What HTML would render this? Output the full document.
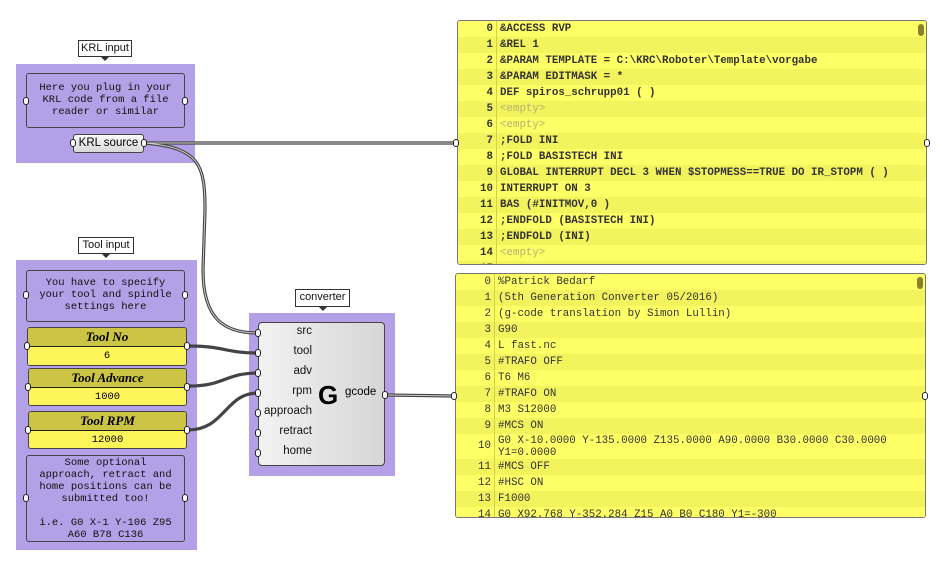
<!DOCTYPE html>
<html><head><meta charset="utf-8"><style>
*{box-sizing:border-box;margin:0;padding:0}
body{width:946px;height:565px;background:#fff;position:relative;overflow:hidden;font-family:"Liberation Sans",sans-serif}
.a{position:absolute}
.grp{position:absolute;background:#b4a0e6}
.tag{position:absolute;background:#fff;border:1px solid #333;font-size:11px;text-align:center;line-height:15px;color:#111}
.tag:after{content:"";position:absolute;left:50%;bottom:-5px;margin-left:-4px;border:4px solid transparent;border-top-color:#333;border-bottom:0}
.pan{position:absolute;background:#b4a0e6;border:1px solid #444;border-radius:3px;font-family:"Liberation Mono",monospace;font-size:10.5px;line-height:12px;text-align:center;color:#111}
.sl{position:absolute;border:1px solid #444;border-radius:3px;overflow:hidden}
.sl .h{height:19px;background:#cbc444;border-bottom:1px solid #222;font-family:"Liberation Serif",serif;font-weight:bold;font-style:italic;font-size:13px;text-align:center;line-height:18px}
.sl .v{height:18px;background:#fdf55a;font-family:"Liberation Mono",monospace;font-size:10.5px;text-align:center;line-height:18px}
.dot{position:absolute;width:6px;height:8px;border:1.5px solid #222;background:#fff;border-radius:4px;z-index:3}
.code{position:absolute;background:#ffff66;border:1px solid #777;border-radius:3px;overflow:hidden;font-family:"Liberation Mono",monospace;font-size:10.8px;color:#333}
.r{height:16px;line-height:16px;white-space:pre;position:relative}
.r:nth-child(even){background:#f3f35e}
.r .n{display:inline-block;width:39px;text-align:right;padding-right:3px;border-right:1px solid #d8d040;height:100%}
.r .t{padding-left:3px}
.e{color:#b8b070}
.sb{position:absolute;right:2px;top:3px;width:6px;height:12px;background:#8a8030;border-radius:3px}
.in{position:absolute;font-size:11.5px;color:#111;text-align:right;width:58px;left:0}
</style></head><body>

<!-- KRL input -->
<div class="tag" style="left:78px;top:40px;width:54px;height:17px">KRL input</div>
<div class="grp" style="left:16px;top:64px;width:179px;height:99px"></div>
<div class="pan" style="left:26px;top:73px;width:159px;height:55px;padding-top:8px">Here you plug in your<br>KRL code from a file<br>reader or similar</div>
<div class="dot" style="left:23px;top:97px"></div><div class="dot" style="left:182px;top:97px"></div>
<div class="a" style="left:73px;top:134px;width:71px;height:19px;background:linear-gradient(#fafafa,#d8d8d8);border:1px solid #444;border-radius:3px;font-size:11.5px;text-align:center;line-height:17px">KRL source</div>
<div class="dot" style="left:70px;top:139px"></div><div class="dot" style="left:141px;top:139px"></div>

<!-- Tool input -->
<div class="tag" style="left:78px;top:237px;width:56px;height:17px">Tool input</div>
<div class="grp" style="left:16px;top:260px;width:181px;height:290px"></div>
<div class="pan" style="left:26px;top:270px;width:159px;height:52px;padding-top:6px">You have to specify<br>your tool and spindle<br>settings here</div>
<div class="dot" style="left:23px;top:291px"></div><div class="dot" style="left:182px;top:291px"></div>
<div class="sl" style="left:27px;top:327px;width:160px;height:39px"><div class="h">Tool No</div><div class="v">6</div></div>
<div class="dot" style="left:24px;top:342px"></div><div class="dot" style="left:184px;top:342px"></div>
<div class="sl" style="left:28px;top:368px;width:159px;height:38px"><div class="h">Tool Advance</div><div class="v">1000</div></div>
<div class="dot" style="left:25px;top:383px"></div><div class="dot" style="left:184px;top:383px"></div>
<div class="sl" style="left:28px;top:411px;width:159px;height:38px"><div class="h">Tool RPM</div><div class="v">12000</div></div>
<div class="dot" style="left:25px;top:426px"></div><div class="dot" style="left:184px;top:426px"></div>
<div class="pan" style="left:26px;top:455px;width:159px;height:87px;padding-top:1px">Some optional<br>approach, retract and<br>home positions can be<br>submitted too!<br><br>i.e. G0 X-1 Y-106 Z95<br>A60 B78 C136</div>
<div class="dot" style="left:23px;top:494px"></div><div class="dot" style="left:182px;top:494px"></div>

<!-- converter -->
<div class="tag" style="left:295px;top:289px;width:55px;height:18px">converter</div>
<div class="grp" style="left:249px;top:313px;width:146px;height:163px"></div>
<div class="a" style="left:258px;top:322px;width:127px;height:144px;background:linear-gradient(90deg,#f2f2f2,#d6d6d6);border:1px solid #444;border-radius:4px"></div>
<div class="in" style="left:254px;top:325px">src</div>
<div class="in" style="left:254px;top:345px">tool</div>
<div class="in" style="left:254px;top:365px">adv</div>
<div class="in" style="left:254px;top:385px">rpm</div>
<div class="in" style="left:254px;top:405px">approach</div>
<div class="in" style="left:254px;top:425px">retract</div>
<div class="in" style="left:254px;top:445px">home</div>
<div class="a" style="left:318px;top:380px;font-size:26px;font-weight:bold;line-height:30px">G</div>
<div class="a" style="left:345px;top:386px;font-size:11.5px">gcode</div>
<div class="dot" style="left:255px;top:329px"></div><div class="dot" style="left:255px;top:349px"></div>
<div class="dot" style="left:255px;top:369px"></div><div class="dot" style="left:255px;top:389px"></div>
<div class="dot" style="left:255px;top:409px"></div><div class="dot" style="left:255px;top:429px"></div>
<div class="dot" style="left:255px;top:449px"></div><div class="dot" style="left:382px;top:391px"></div>

<!-- top code panel -->
<div class="code" style="left:457px;top:20px;width:470px;height:245px;font-weight:bold">
<div class="r"><span class="n">0</span><span class="t">&amp;ACCESS RVP</span></div>
<div class="r"><span class="n">1</span><span class="t">&amp;REL 1</span></div>
<div class="r"><span class="n">2</span><span class="t">&amp;PARAM TEMPLATE = C:\KRC\Roboter\Template\vorgabe</span></div>
<div class="r"><span class="n">3</span><span class="t">&amp;PARAM EDITMASK = *</span></div>
<div class="r"><span class="n">4</span><span class="t">DEF spiros_schrupp01 ( )</span></div>
<div class="r"><span class="n">5</span><span class="t e" style="font-weight:normal">&lt;empty&gt;</span></div>
<div class="r"><span class="n">6</span><span class="t e" style="font-weight:normal">&lt;empty&gt;</span></div>
<div class="r"><span class="n">7</span><span class="t">;FOLD INI</span></div>
<div class="r"><span class="n">8</span><span class="t">;FOLD BASISTECH INI</span></div>
<div class="r"><span class="n">9</span><span class="t">GLOBAL INTERRUPT DECL 3 WHEN $STOPMESS==TRUE DO IR_STOPM ( )</span></div>
<div class="r"><span class="n">10</span><span class="t">INTERRUPT ON 3</span></div>
<div class="r"><span class="n">11</span><span class="t">BAS (#INITMOV,0 )</span></div>
<div class="r"><span class="n">12</span><span class="t">;ENDFOLD (BASISTECH INI)</span></div>
<div class="r"><span class="n">13</span><span class="t">;ENDFOLD (INI)</span></div>
<div class="r"><span class="n">14</span><span class="t e" style="font-weight:normal">&lt;empty&gt;</span></div>
<div class="r"><span class="n">15</span><span class="t"></span></div>
<div class="sb"></div>
</div>
<div class="dot" style="left:453px;top:139px"></div><div class="dot" style="left:924px;top:139px"></div>

<!-- bottom code panel -->
<div class="code" style="left:455px;top:273px;width:471px;height:245px">
<div class="r"><span class="n">0</span><span class="t">%Patrick Bedarf</span></div>
<div class="r"><span class="n">1</span><span class="t">(5th Generation Converter 05/2016)</span></div>
<div class="r"><span class="n">2</span><span class="t">(g-code translation by Simon Lullin)</span></div>
<div class="r"><span class="n">3</span><span class="t">G90</span></div>
<div class="r"><span class="n">4</span><span class="t">L fast.nc</span></div>
<div class="r"><span class="n">5</span><span class="t">#TRAFO OFF</span></div>
<div class="r"><span class="n">6</span><span class="t">T6 M6</span></div>
<div class="r"><span class="n">7</span><span class="t">#TRAFO ON</span></div>
<div class="r"><span class="n">8</span><span class="t">M3 S12000</span></div>
<div class="r"><span class="n">9</span><span class="t">#MCS ON</span></div>
<div class="r" style="height:25px;line-height:12px;background:#ffff66"><span class="n" style="line-height:25px;vertical-align:top">10</span><span class="t" style="display:inline-block;vertical-align:top;padding-top:1px">G0 X-10.0000 Y-135.0000 Z135.0000 A90.0000 B30.0000 C30.0000<br>Y1=0.0000</span></div>
<div class="r" style="background:#f3f35e"><span class="n">11</span><span class="t">#MCS OFF</span></div>
<div class="r" style="background:#ffff66"><span class="n">12</span><span class="t">#HSC ON</span></div>
<div class="r" style="background:#f3f35e"><span class="n">13</span><span class="t">F1000</span></div>
<div class="r" style="background:#ffff66"><span class="n">14</span><span class="t">G0 X92.768 Y-352.284 Z15 A0 B0 C180 Y1=-300</span></div>
<div class="sb"></div>
</div>
<div class="dot" style="left:451px;top:392px"></div><div class="dot" style="left:922px;top:392px"></div>

<svg class="a" style="left:0;top:0;z-index:2" width="946" height="565">
<g fill="none" stroke-linecap="round">
<g stroke="#444" stroke-width="3.2">
<path d="M145 143 L457 143"/>
<path d="M145 143 C200 148 205 165 205 210 L203 270 C203 320 225 333 258 333"/>
<path d="M188 346 C225 346 225 353 258 353"/>
<path d="M189 386 C225 386 225 373 258 373"/>
<path d="M188 430 C225 430 225 393 258 393"/>
<path d="M386 395 L455 396"/>
</g>
<g stroke="#ccc" stroke-width="1">
<path d="M145 143 L457 143"/>
<path d="M145 143 C200 148 205 165 205 210 L203 270 C203 320 225 333 258 333"/>
<path d="M386 395 L455 396"/>
</g></g></svg>
</body></html>
